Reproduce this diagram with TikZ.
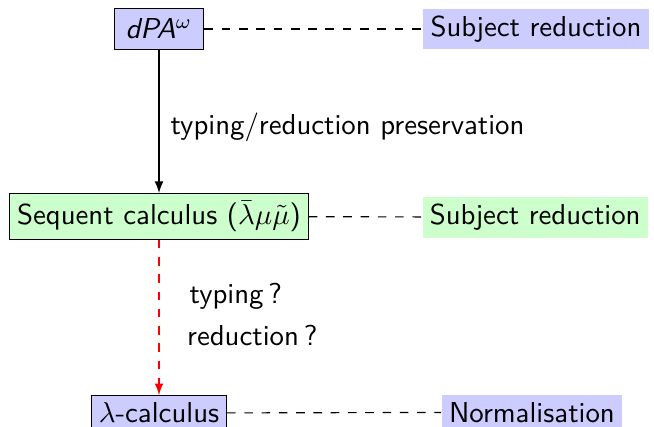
\documentclass[tikz,border=0pt]{standalone}
\usepackage{amsmath}
\usepackage{amssymb}
\usepackage{tikz}
\renewcommand{\familydefault}{\sfdefault}

\tikzset{
  bluebox/.style={draw, fill=blue!20, inner sep=2.5pt},
  greenbox/.style={draw, fill=green!20, inner sep=2.5pt},
  bluetag/.style={fill=blue!20, inner sep=2.5pt},
  greentag/.style={fill=green!20, inner sep=2.5pt}
}

\begin{document}
\begin{tikzpicture}
\useasboundingbox (0,0) rectangle (7.98,-5.20);
\node[bluebox, inner xsep=4pt, inner ysep=3.5pt] (dpa) at (1.94,-0.354) {\textit{dPA}$^\omega$};
\node[bluetag] (sr1) at (6.54,-0.354) {Subject reduction};
\node[greenbox] (seq) at (1.94,-2.64) {Sequent calculus ($\bar\lambda\mu\tilde\mu$)};
\node[greentag] (sr2) at (6.53,-2.65) {Subject reduction};
\node[bluebox] (lam) at (1.94,-5.04) {$\lambda$-calculus};
\node[bluetag] (norm) at (6.49,-5.03) {Normalisation};

\draw[dashed] (dpa) -- (sr1);
\draw[dashed] (seq) -- (sr2);
\draw[dashed] (lam) -- (norm);

\draw[-latex] (dpa) -- (seq) node[midway, right, xshift=0.5pt, yshift=-2pt]{typing/reduction preservation};
\draw[-latex, red, dashed] (seq) -- (lam);
\node[anchor=west] (typ) at (2.19,-3.62) {typing\,?};
\node[anchor=west] (red) at (2.16,-4.09) {reduction\,?};
\end{tikzpicture}
\end{document}
